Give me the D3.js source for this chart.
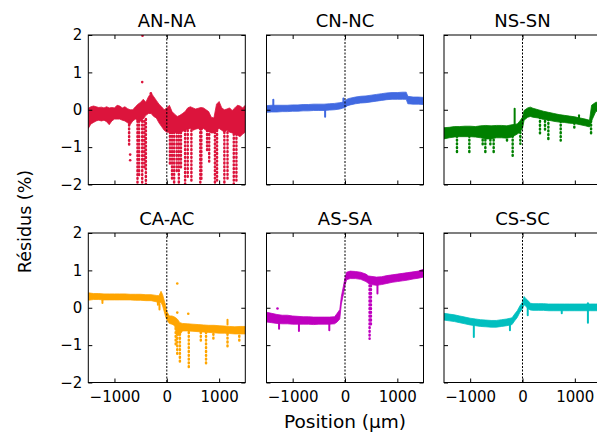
<!DOCTYPE html>
<html><head><meta charset="utf-8">
<script src="https://cdn.jsdelivr.net/npm/d3@7"></script>
<style>body{margin:0;background:#fff}svg{display:block}text{font-family:"DejaVu Sans",sans-serif;fill:#000}</style>
</head><body><svg id="c" width="597" height="437"></svg>
<script>
// ---------- data ----------
const titles = ["AN-NA","CN-NC","NS-SN","CA-AC","AS-SA","CS-SC"];
const colors = ["#dc143c","#4169e1","#008000","#ffa500","#bf00bf","#00bfbf"];
const xTicks = [-1000,0,1000];
const yTicks = [-2,-1,0,1,2];
const xDomain = [-1500,1500];
const yDomain = [-2,2];

// AN-NA band (50 µm sampling)
const anPos = [-1500,-1450,-1400,-1350,-1300,-1250,-1200,-1150,-1100,-1050,-1000,-950,-900,-850,-800,-750,-700,-650,-600,-550,-500,-450,-400,-350,-300,-250,-200,-150,-100,-50,0,50,100,150,200,250,300,350,400,450,500,550,600,650,700,750,800,850,900,950,1000,1050,1100,1150,1200,1250,1300,1350,1400,1450,1500];
const anHi = [0.04,0.08,0.10,0.08,0.06,0.07,0.05,0.08,0.05,0.06,0.05,0.12,0.10,0.05,0.08,0.03,0.00,0.00,0.08,0.15,0.20,0.28,0.20,0.35,0.45,0.35,0.25,0.15,0.08,0.00,0.05,0.12,-0.05,-0.12,-0.18,-0.15,-0.10,-0.05,0.05,0.08,0.05,0.02,0.04,0.06,0.05,0.00,-0.05,-0.20,-0.22,0.15,0.22,0.05,0.00,0.02,0.05,-0.02,0.05,0.12,0.10,0.05,0.12];
const anLo = [-0.50,-0.38,-0.34,-0.30,-0.28,-0.30,-0.28,-0.32,-0.40,-0.30,-0.25,-0.25,-0.25,-0.28,-0.30,-0.35,-0.40,-0.30,-0.25,-0.30,-0.30,-0.25,-0.15,-0.10,-0.10,-0.18,-0.22,-0.35,-0.45,-0.55,-0.60,-0.60,-0.62,-0.60,-0.62,-0.60,-0.58,-0.55,-0.52,-0.50,-0.55,-0.52,-0.50,-0.55,-0.50,-0.55,-0.58,-0.62,-0.62,-0.55,-0.50,-0.55,-0.60,-0.55,-0.60,-0.62,-0.65,-0.68,-0.72,-0.65,-0.60];
const anStreaks = [[-720,-0.3,-0.95],[-560,-0.3,-2.0],[-530,-0.3,-1.8],[-470,-0.3,-1.95],[-430,-0.3,-1.6],[-400,-0.25,-2.0],[60,-0.6,-1.5],[100,-0.6,-1.9],[140,-0.6,-2.0],[190,-0.6,-1.7],[230,-0.6,-2.0],[270,-0.6,-1.6],[350,-0.55,-2.0],[400,-0.55,-1.8],[470,-0.55,-1.9],[640,-0.5,-2.0],[660,-0.5,-1.9],[770,-0.55,-1.1],[810,-0.55,-1.45],[920,-0.6,-2.0],[960,-0.55,-1.9],[1100,-0.6,-2.0],[1160,-0.6,-1.9],[1280,-0.65,-2.0],[1330,-0.65,-1.95]];
const anSpikes = [];
const anPts = [[-700,-1.2],[-700,-1.35],[-470,0.74],[-464,1.98],[-305,0.44]];

// CN-NC
const cnPos = [-1500,-1400,-1300,-1200,-1100,-1000,-900,-800,-700,-600,-500,-400,-300,-200,-100,-50,0,50,100,200,300,400,500,600,700,800,900,1000,1100,1170,1200,1300,1400,1500];
const cnHi = [0.11,0.12,0.12,0.12,0.12,0.13,0.13,0.14,0.14,0.15,0.15,0.15,0.16,0.17,0.19,0.20,0.24,0.29,0.31,0.34,0.36,0.37,0.39,0.41,0.43,0.45,0.46,0.46,0.47,0.47,0.36,0.34,0.34,0.33];
const cnLo = [-0.07,-0.06,-0.06,-0.05,-0.05,-0.04,-0.04,-0.03,-0.03,-0.02,-0.02,-0.02,-0.01,0.00,0.02,0.04,0.06,0.11,0.13,0.16,0.18,0.19,0.21,0.23,0.25,0.27,0.28,0.28,0.28,0.28,0.16,0.15,0.15,0.14];
const cnStreaks = [];
const cnSpikes = [[-1370,0.1,0.27],[-380,-0.02,-0.19],[-30,0.15,0.3]];
const cnPts = [];

// NS-SN
const nsPos = [-1500,-1400,-1300,-1200,-1100,-1000,-900,-800,-700,-600,-500,-400,-300,-200,-100,-50,0,30,100,150,200,300,400,500,600,700,800,900,1000,1100,1200,1280,1320,1400,1500];
const nsHi = [-0.48,-0.47,-0.45,-0.45,-0.44,-0.44,-0.45,-0.43,-0.42,-0.43,-0.42,-0.42,-0.43,-0.40,-0.38,-0.30,-0.20,-0.02,0.05,0.07,0.04,0.00,-0.04,-0.07,-0.10,-0.13,-0.15,-0.17,-0.19,-0.22,-0.25,-0.28,0.12,0.20,0.20];
const nsLo = [-0.78,-0.75,-0.73,-0.72,-0.72,-0.72,-0.73,-0.75,-0.78,-0.78,-0.75,-0.75,-0.76,-0.73,-0.65,-0.60,-0.50,-0.28,-0.20,-0.18,-0.20,-0.22,-0.26,-0.28,-0.31,-0.33,-0.34,-0.36,-0.37,-0.40,-0.43,-0.46,-0.30,-0.05,0.00];
const nsStreaks = [[-1252,-0.7,-1.13],[-1016,-0.7,-1.18],[-761,-0.7,-1.0],[-710,-0.7,-1.13],[-614,-0.7,-0.95],[-551,-0.7,-1.13],[-296,-0.7,-0.86],[-188,-0.6,-1.27],[-41,-0.6,-0.91],[334,-0.2,-0.64],[430,-0.2,-0.55],[494,-0.25,-0.82],[730,-0.3,-0.82],[990,-0.35,-0.55],[1310,-0.3,-0.64]];
const nsSpikes = [[-150,-0.5,0.03],[1080,-0.25,-0.15]];
const nsPts = [];

// CA-AC
const caPos = [-1500,-1400,-1300,-1200,-1100,-1000,-900,-800,-700,-600,-500,-400,-300,-200,-150,-110,-80,-50,-20,0,50,100,150,200,250,300,400,500,600,700,800,900,1000,1100,1200,1300,1400,1500];
const caHi = [0.40,0.38,0.38,0.37,0.37,0.37,0.37,0.37,0.36,0.36,0.36,0.35,0.35,0.33,0.32,0.44,0.35,0.20,0.05,-0.10,-0.22,-0.22,-0.25,-0.30,-0.40,-0.42,-0.43,-0.44,-0.45,-0.46,-0.47,-0.47,-0.48,-0.49,-0.50,-0.51,-0.50,-0.50];
const caLo = [0.20,0.22,0.22,0.21,0.21,0.21,0.21,0.21,0.21,0.20,0.20,0.19,0.19,0.16,0.12,0.15,0.05,-0.10,-0.25,-0.32,-0.42,-0.44,-0.48,-0.75,-0.72,-0.62,-0.62,-0.63,-0.64,-0.65,-0.66,-0.67,-0.68,-0.68,-0.69,-0.70,-0.70,-0.70];
const caStreaks = [[170,-0.45,-1.0],[200,-0.5,-1.23],[250,-0.5,-1.5],[420,-0.55,-1.63],[650,-0.55,-0.92],[750,-0.55,-1.5],[890,-0.6,-0.84],[1160,-0.6,-1.1],[1385,-0.65,-0.9]];
const caSpikes = [[-1230,0.2,0.13],[-170,0.15,0.08],[-140,0.1,-0.05],[1160,-0.45,-0.32]];
const caPts = [[200,0.65],[200,-0.13],[410,-0.16]];

// AS-SA
const asPos = [-1500,-1400,-1300,-1200,-1100,-1000,-900,-800,-700,-600,-500,-400,-300,-200,-150,-100,-70,-30,0,30,100,200,300,400,450,500,600,700,800,900,1000,1100,1200,1300,1400,1500];
const asHi = [-0.12,-0.15,-0.18,-0.20,-0.20,-0.22,-0.23,-0.24,-0.24,-0.25,-0.25,-0.25,-0.25,-0.24,-0.15,-0.05,0.30,0.58,0.80,0.95,0.98,0.97,0.95,0.90,0.85,0.84,0.82,0.83,0.86,0.88,0.90,0.92,0.94,0.96,0.98,1.03];
const asLo = [-0.38,-0.40,-0.42,-0.43,-0.43,-0.44,-0.44,-0.44,-0.44,-0.45,-0.44,-0.44,-0.44,-0.43,-0.38,-0.30,0.10,0.36,0.60,0.75,0.78,0.78,0.76,0.70,0.65,0.62,0.60,0.62,0.65,0.68,0.70,0.72,0.74,0.77,0.79,0.82];
const asStreaks = [[470,0.7,-0.83],[495,0.7,-0.5]];
const asSpikes = [[-1260,-0.35,-0.56],[-880,-0.4,-0.62],[-300,-0.4,-0.6],[620,0.6,0.38]];
const asPts = [[-1290,-0.02]];

// CS-SC
const csPos = [-1500,-1400,-1300,-1200,-1100,-1000,-900,-800,-700,-600,-500,-400,-300,-200,-150,-100,-50,0,30,60,100,150,200,300,400,500,600,700,800,900,1000,1100,1200,1300,1400,1500];
const csHi = [-0.15,-0.17,-0.19,-0.22,-0.25,-0.28,-0.30,-0.32,-0.33,-0.34,-0.34,-0.32,-0.30,-0.27,-0.17,-0.08,0.05,0.15,0.30,0.25,0.20,0.12,0.11,0.11,0.11,0.10,0.10,0.10,0.10,0.10,0.10,0.10,0.10,0.10,0.10,0.10];
const csLo = [-0.33,-0.35,-0.37,-0.40,-0.43,-0.46,-0.48,-0.50,-0.51,-0.52,-0.52,-0.50,-0.48,-0.45,-0.35,-0.26,-0.12,-0.03,0.08,0.05,-0.02,-0.06,-0.07,-0.07,-0.07,-0.08,-0.08,-0.08,-0.08,-0.08,-0.08,-0.08,-0.08,-0.08,-0.08,-0.08];
const csStreaks = [];
const csSpikes = [[-930,-0.4,-0.78],[-240,-0.35,-0.6],[100,0.0,-0.2],[750,0.0,-0.15],[1250,0.0,-0.4],[1250,0.05,0.12]];
const csPts = [];

const panels = [
  {pos:anPos,hi:anHi,lo:anLo,streaks:anStreaks,spikes:anSpikes,pts:anPts},
  {pos:cnPos,hi:cnHi,lo:cnLo,streaks:cnStreaks,spikes:cnSpikes,pts:cnPts},
  {pos:nsPos,hi:nsHi,lo:nsLo,streaks:nsStreaks,spikes:nsSpikes,pts:nsPts},
  {pos:caPos,hi:caHi,lo:caLo,streaks:caStreaks,spikes:caSpikes,pts:caPts},
  {pos:asPos,hi:asHi,lo:asLo,streaks:asStreaks,spikes:asSpikes,pts:asPts},
  {pos:csPos,hi:csHi,lo:csLo,streaks:csStreaks,spikes:csSpikes,pts:csPts}
];

// ---------- layout ----------
const colX = [88.3, 266.5, 444];
const rowY = [35, 233];
const W = 157, H = 149.5;
const svg = d3.select("#c");
const x = d3.scaleLinear().domain(xDomain).range([0, W]);
const y = d3.scaleLinear().domain(yDomain).range([H, 0]);

panels.forEach((p, i) => {
  const r = Math.floor(i / 3), c = i % 3;
  const col = colors[i];
  const g = svg.append("g").attr("transform", `translate(${colX[c]},${rowY[r]})`);
  const cid = "clip" + i;
  g.append("clipPath").attr("id", cid).append("rect").attr("width", W).attr("height", H);
  const data = g.append("g").attr("clip-path", `url(#${cid})`);
  const rows = p.pos.map((v, k) => ({p: v, hi: p.hi[k], lo: p.lo[k]}));
  const area = d3.area().x(d => x(d.p)).y0(d => y(d.lo)).y1(d => y(d.hi));
  data.append("path").datum(rows).attr("d", area)
    .attr("fill", col).attr("stroke", col).attr("stroke-width", 0.8).attr("stroke-linejoin", "round");
  data.selectAll(".st").data(p.streaks).enter().append("line")
    .attr("x1", d => x(d[0])).attr("x2", d => x(d[0]))
    .attr("y1", d => y(d[1])).attr("y2", d => y(d[2]))
    .attr("stroke", col).attr("stroke-width", 2.5).attr("stroke-linecap", "round")
    .attr("stroke-dasharray", "0.8,3");
  data.selectAll(".sp").data(p.spikes).enter().append("line")
    .attr("x1", d => x(d[0])).attr("x2", d => x(d[0]))
    .attr("y1", d => y(d[1])).attr("y2", d => y(d[2]))
    .attr("stroke", col).attr("stroke-width", 2).attr("stroke-linecap", "round");
  data.selectAll("circle").data(p.pts).enter().append("circle")
    .attr("cx", d => x(d[0])).attr("cy", d => y(d[1])).attr("r", 1.3).attr("fill", col);
  // dashed zero line
  g.append("line").attr("x1", x(0)).attr("x2", x(0)).attr("y1", 0).attr("y2", H)
    .attr("stroke", "#000").attr("stroke-width", 1).attr("stroke-dasharray", "2,1.5");
  // axes (inward ticks on all sides)
  const fmt = d3.format("d");
  const aL = d3.axisLeft(y).tickValues(yTicks).tickSize(-4).tickPadding(6).tickFormat(c === 0 ? fmt : () => "");
  const aR = d3.axisRight(y).tickValues(yTicks).tickSize(-4).tickFormat(() => "");
  const aB = d3.axisBottom(x).tickValues(xTicks).tickSize(-4).tickPadding(9).tickFormat(r === 1 ? fmt : () => "");
  const aT = d3.axisTop(x).tickValues(xTicks).tickSize(-4).tickFormat(() => "");
  [[aL, 0, 0], [aR, W, 0], [aB, 0, H], [aT, 0, 0]].forEach(([a, tx, ty]) => {
    const ag = g.append("g").attr("transform", `translate(${tx},${ty})`).call(a);
    ag.select(".domain").remove();
    ag.selectAll("line").attr("stroke", "#000").attr("stroke-width", 1);
    ag.selectAll("text").attr("font-size", 15).attr("font-family", "DejaVu Sans").attr("fill", "#000");
  });
  g.append("rect").attr("width", W).attr("height", H).attr("fill", "none")
    .attr("stroke", "#000").attr("stroke-width", 1);
  g.append("text").attr("x", W / 2).attr("y", -8).attr("text-anchor", "middle")
    .attr("font-size", 18).text(titles[i]);
});

svg.append("text").attr("transform", "translate(31,221.5) rotate(-90)")
  .attr("text-anchor", "middle").attr("font-size", 17.5).text("Résidus (%)");
svg.append("text").attr("x", 345).attr("y", 428).attr("text-anchor", "middle")
  .attr("font-size", 18.5).text("Position (µm)");
</script></body></html>
